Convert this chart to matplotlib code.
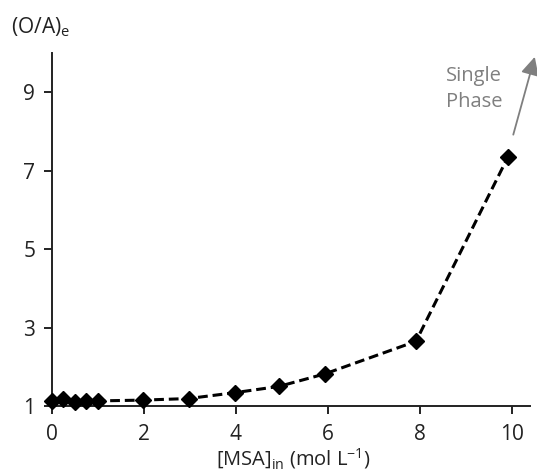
import matplotlib
matplotlib.use("Agg")
import matplotlib.pyplot as plt

# MSA concentration (mol/L) and equilibrium O/A phase ratio
msa_conc = [0.0, 0.25, 0.5, 0.75, 1.0, 1.97, 2.97, 3.98, 4.94, 5.94, 7.92, 9.92]
oa_ratio = [1.13, 1.18, 1.11, 1.13, 1.13, 1.15, 1.19, 1.34, 1.50, 1.82, 2.65, 7.35]

x_ticks = [0, 2, 4, 6, 8, 10]
y_ticks = [1, 3, 5, 7, 9]

plt.rcParams['font.family'] = ['Open Sans', 'DejaVu Sans']

W, H = 537, 473
fig = plt.figure(figsize=(W / 100, H / 100), dpi=100)
ax = fig.add_axes([52 / W, (H - 406) / H, (530 - 52) / W, (406 - 53) / H])

ax.plot(msa_conc, oa_ratio, color='black', linestyle=(0, (3.2, 1.6)), linewidth=2.2,
        marker='D', markersize=8.5, markerfacecolor='black', markeredgecolor='black',
        clip_on=False, zorder=3)

ax.set_xlim(0, 10.4)
ax.set_ylim(1, 10)
ax.set_xticks(x_ticks)
ax.set_yticks(y_ticks)
for s in ('top', 'right'):
    ax.spines[s].set_visible(False)
for s in ('left', 'bottom'):
    ax.spines[s].set_linewidth(1.4)
    ax.spines[s].set_color('#222222')
ax.tick_params(direction='out', length=6, width=1.4, color='#222222',
               labelsize=15, labelcolor='#222222', pad=6)
ax.tick_params(axis='x', pad=7)

fig.text(11 / W, 1 - 33 / H, r'(O/A)$_\mathregular{e}$', fontsize=15, color='#222222',
         ha='left', va='baseline')
fig.text(293 / W, 1 - 465 / H, r'[MSA]$_\mathregular{in}$ (mol L$^\mathregular{-1}$)',
         fontsize=14.5, color='#222222', ha='center', va='baseline')

# arrow pointing to single-phase region
ax.annotate('', xy=(10.52, 9.97), xytext=(10.02, 7.85),
            arrowprops=dict(arrowstyle='-|>,head_length=1.1,head_width=0.55',
                            color='#7f7f7f', linewidth=1.3),
            annotation_clip=False)
fig.text(474 / W, 1 - 89 / H, 'Single\nPhase', fontsize=14.5, color='#7f7f7f',
         ha='center', va='center', linespacing=1.45)

fig.savefig('out.png', dpi=100)
